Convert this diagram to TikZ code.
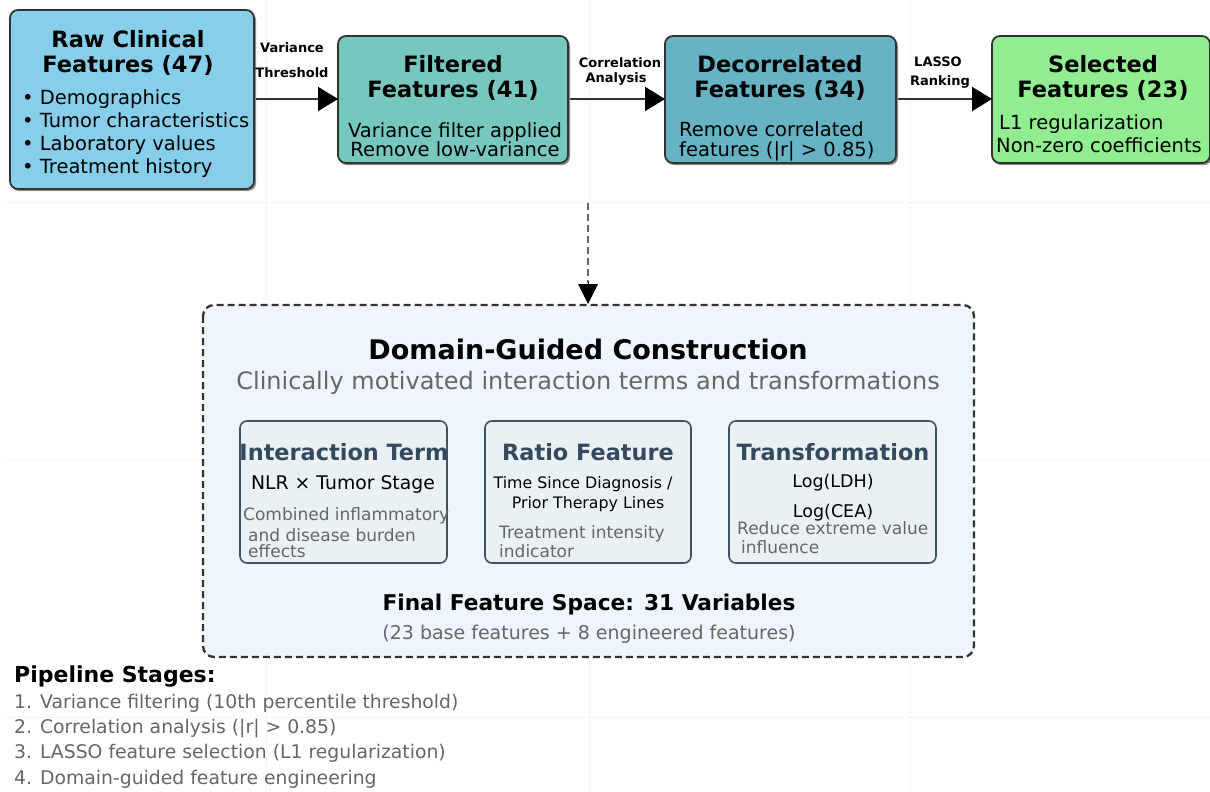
\documentclass[tikz,border=0pt]{standalone}
\usepackage{fontspec}
\setmainfont{DejaVu Sans}
\usetikzlibrary{arrows.meta,positioning}
\definecolor{rawc}{HTML}{87CEEB}
\definecolor{filc}{HTML}{76C8BF}
\definecolor{decc}{HTML}{66B3C4}
\definecolor{selc}{HTML}{90EE90}
\definecolor{bordc}{HTML}{333333}
\definecolor{domc}{HTML}{EEF5FC}
\definecolor{innc}{HTML}{EAF1F4}
\definecolor{innb}{HTML}{3E5266}
\definecolor{slate}{HTML}{34495E}
\definecolor{graytx}{HTML}{666666}
\definecolor{gridc}{HTML}{F6F6F6}
\tikzset{
  stagebox/.style={draw=bordc, line width=1.8pt, rounded corners=8pt},
  shadowbox/.style={fill=black!45, rounded corners=8pt},
  btitle/.style={font=\fontsize{22.5}{25}\selectfont\bfseries, align=center, inner sep=0pt},
  bbody/.style={font=\fontsize{19.5}{20}\selectfont, inner sep=0pt, anchor=base west},
  bbodyc/.style={font=\fontsize{19.5}{20}\selectfont, inner sep=0pt, anchor=base},
  alabel/.style={font=\fontsize{13}{14}\selectfont\bfseries, inner sep=0pt},
  flow/.style={line width=2pt, draw=bordc, -{Triangle[length=20pt,width=24pt,fill=black,color=black]}},
  innbox/.style={draw=innb, fill=innc, line width=1.6pt, rounded corners=7pt},
  ititle/.style={font=\fontsize{22.4}{24}\selectfont\bfseries, text=slate, inner sep=0pt, anchor=base},
  imain/.style={font=\fontsize{18.8}{20}\selectfont, inner sep=0pt, anchor=base},
  imain2/.style={font=\fontsize{15.8}{18}\selectfont, inner sep=0pt, anchor=base},
  igray/.style={font=\fontsize{17}{18}\selectfont, text=graytx, inner sep=0pt, anchor=base west},
  listtx/.style={font=\fontsize{18.8}{20}\selectfont, text=graytx, inner sep=0pt, anchor=base west},
}
\begin{document}
\begin{tikzpicture}[x=1pt,y=-1pt]
\useasboundingbox (0,0) rectangle (1210,792);
\fill[white] (0,0) rectangle (1210,792);
% faint background grid
\draw[gridc, line width=0.6pt] (5,202) -- (1210,202) (5,460) -- (1210,460) (5,717) -- (1210,717);
\draw[gridc, line width=0.6pt] (266,0) -- (266,792) (589,0) -- (589,792) (910,0) -- (910,792);

% ---------- stage boxes ----------
\fill[shadowbox] (11,12) rectangle (256,191);
\draw[stagebox, fill=rawc] (10,10) rectangle (254,189);
\node[btitle] (rawt) at (128,53) {Raw Clinical\\Features (47)};
\node[bbody] (raw1) at (22,104) {• Demographics};
\node[bbody] (raw2) at (22,127) {• Tumor characteristics};
\node[bbody] (raw3) at (22,150) {• Laboratory values};
\node[bbody] (raw4) at (22,173) {• Treatment history};
\coordinate (rawE) at (256,99);

\fill[shadowbox] (339,38) rectangle (570,165);
\draw[stagebox, fill=filc] (338,36) rectangle (568,163);
\node[btitle] (filt) at (453,78) {Filtered\\Features (41)};
\node[bbodyc] (fil1) at (455,137) {Variance filter applied};
\node[bbodyc] (fil2) at (455,156) {Remove low-variance};
\coordinate (filW) at (338,99);
\coordinate (filE) at (570,99);

\fill[shadowbox] (666,38) rectangle (898,165);
\draw[stagebox, fill=decc] (665,36) rectangle (896,163);
\node[btitle] (dect) at (780,78) {Decorrelated\\Features (34)};
\node[bbody] (dec1) at (679,136) {Remove correlated};
\node[bbody] (dec2) at (679,156) {features (|r| > 0.85)};
\coordinate (decW) at (665,99);
\coordinate (decE) at (898,99);

\fill[shadowbox] (993,38) rectangle (1212,165);
\draw[stagebox, fill=selc] (992,36) rectangle (1210,163);
\node[btitle] (selt) at (1103,78) {Selected\\Features (23)};
\node[bbody] (sel1) at (999,129) {L1 regularization};
\node[bbody] (sel2) at (996,152) {Non-zero coefficients};
\coordinate (selW) at (992,99);

% ---------- flow arrows ----------
\draw[flow] (rawE) -- (filW);
\node[alabel] (l1a) at (292,48) {Variance};
\node[alabel] (l1b) at (292,73) {Threshold};
\draw[flow] (filE) -- (decW);
\node[alabel] (l2a) at (620,63) {Correlation};
\node[alabel] (l2b) at (616,79) {Analysis};
\draw[flow] (decE) -- (selW);
\node[alabel] (l3a) at (938,62) {LASSO};
\node[alabel] (l3b) at (940,82) {Ranking};

% ---------- domain box ----------
\draw[draw=bordc, fill=domc, line width=2.3pt, dash pattern=on 7pt off 4pt, rounded corners=11pt] (203,305) rectangle (974,657);
\coordinate (domN) at (588,304);
\coordinate (dashS) at (588,203);
\draw[draw=gray!80!black, line width=1.6pt, dash pattern=on 7pt off 4pt] (dashS) -- (588,283);
\draw[line width=0pt, -{Triangle[length=20pt,width=20pt,fill=black,color=black]}] (588,282) -- (domN);

\node[font=\fontsize{27}{30}\selectfont\bfseries, inner sep=0pt, anchor=base] (domt) at (588,359) {Domain-Guided Construction};
\node[font=\fontsize{24}{26}\selectfont, text=graytx, inner sep=0pt, anchor=base] (doms) at (588,389) {Clinically motivated interaction terms and transformations};

% inner boxes
\draw[innbox] (240,421) rectangle (447,563);
\node[ititle] (it1) at (344,460) {Interaction Term};
\node[imain] (im1) at (343,489) {NLR × Tumor Stage};
\node[igray] (ig1a) at (243,520) {Combined inflammatory};
\node[igray] (ig1b) at (248,541) {and disease burden};
\node[igray] (ig1c) at (248,557) {effects};

\draw[innbox] (485,421) rectangle (691,563);
\node[ititle] (it2) at (588,460) {Ratio Feature};
\node[imain2] (im2a) at (583,488) {Time Since Diagnosis /};
\node[imain2] (im2b) at (588,508) {Prior Therapy Lines};
\node[igray] (ig2a) at (499,538) {Treatment intensity};
\node[igray] (ig2b) at (499,557) {indicator};

\draw[innbox] (729,421) rectangle (936,563);
\node[ititle] (it3) at (833,460) {Transformation};
\node[font=\fontsize{17.5}{18}\selectfont, inner sep=0pt, anchor=base] (im3a) at (833,487) {Log(LDH)};
\node[font=\fontsize{17.5}{18}\selectfont, inner sep=0pt, anchor=base] (im3b) at (833,517) {Log(CEA)};
\node[igray] (ig3a) at (737,534) {Reduce extreme value};
\node[igray] (ig3b) at (741,553) {influence};

\node[font=\fontsize{21.7}{24}\selectfont\bfseries, inner sep=0pt, anchor=base] (fin) at (589,610) {Final Feature Space: 31 Variables};
\node[font=\fontsize{19}{21}\selectfont, text=graytx, inner sep=0pt, anchor=base] (fins) at (589,639) {(23 base features + 8 engineered features)};

% ---------- pipeline list ----------
\node[font=\fontsize{22}{24}\selectfont\bfseries, inner sep=0pt, anchor=base west] (pst) at (14,682) {Pipeline Stages:};
\node[listtx] (ps1) at (14,708) {1. Variance filtering (10th percentile threshold)};
\node[listtx] (ps2) at (14,733) {2. Correlation analysis (|r| > 0.85)};
\node[listtx] (ps3) at (14,758) {3. LASSO feature selection (L1 regularization)};
\node[listtx] (ps4) at (14,784) {4. Domain-guided feature engineering};
\end{tikzpicture}
\end{document}
